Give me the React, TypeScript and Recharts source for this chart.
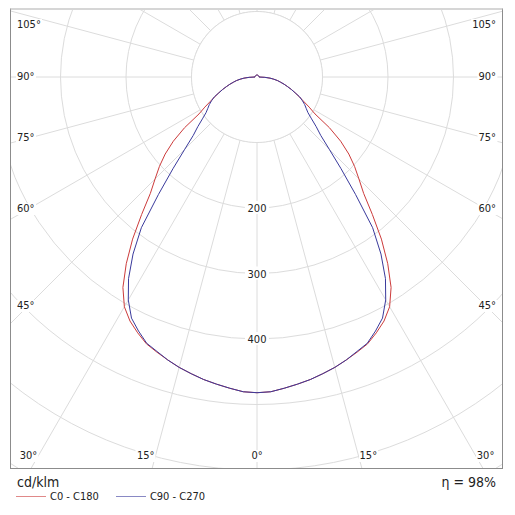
import { RadarChart, Radar, PolarGrid, PolarAngleAxis, PolarRadiusAxis } from "recharts";

// gamma angles of one half plane (0 = straight down, 180 = straight up)
const GAMMA = [
  0, 2.5, 5, 7.5, 10, 12.5, 15, 17.5, 20, 22.5, 25, 27.5, 30, 32.5, 35, 37.5, 40, 42.5, 45,
  47.5, 50, 52.5, 55, 57.5, 60, 62.5, 65, 67.5, 70, 72.5, 75, 77.5, 80, 82.5, 85, 87.5, 90,
  92.5, 95, 97.5, 100, 102.5, 105, 107.5, 110, 112.5, 115, 117.5, 120, 122.5, 125, 127.5, 130,
  132.5, 135, 137.5, 140, 142.5, 145, 147.5, 150, 152.5, 155, 157.5, 160, 162.5, 165, 167.5,
  170, 172.5, 175, 177.5, 180,
];

// cd/klm (both planes are symmetric)
const C0_C180 = [
  482, 481, 477, 473, 469, 464, 459, 453, 447, 441, 431, 420, 405, 381, 348, 312, 274, 241, 220,
  202, 183, 161, 135, 105, 92, 80, 71, 63, 56, 49, 43, 37, 32, 26, 20, 12, 3,
  3, 3, 3, 3, 3, 3, 3, 3, 3, 3, 3, 3, 3, 3, 3, 3, 3, 3, 3, 3, 3, 3, 3, 3, 3, 3, 3, 3, 3, 3, 3,
  3, 3, 3, 3, 3, 3,
];
const C90_C270 = [
  482, 481, 477, 473, 469, 464, 459, 453, 446, 440, 428, 415, 393, 365, 330, 290, 234, 190, 156,
  132, 118, 105, 95, 89, 84, 78, 72, 63, 56, 49, 43, 37, 32, 26, 20, 12, 3,
  3, 3, 3, 3, 3, 3, 3, 3, 3, 3, 3, 3, 3, 3, 3, 3, 3, 3, 3, 3, 3, 3, 3, 3, 3, 3, 3, 3, 3, 3, 3,
  3, 3, 3, 3, 3, 3,
];

const RING_TICKS = [100, 200, 300, 400, 500, 600, 700];
const RING_LABELS = [200, 300, 400];
const INNER_RING = 100;
const GRID_GAMMA = [0, 15, 30, 45, 60, 75, 90, 105, 120, 135, 150, 165, 180, 195, 210, 225, 240, 255, 270, 285, 300, 315, 330, 345];
const SIDE_LABELS = [105, 90, 75, 60, 45];
const BOTTOM_LABELS = [30, 15, 0];

const SERIES = [
  { key: "c0", name: "C0 - C180", color: "#cc3b3b" },
  { key: "c90", name: "C90 - C270", color: "#3a3a9c" },
];

// C0 on the right going up, then C180 on the left coming back down
const data = [
  ...GAMMA.map((g, i) => ({ plane: `C0 ${g}`, c0: C0_C180[i], c90: C90_C270[i], inner: INNER_RING })),
  ...GAMMA.slice(1, -1)
    .map((g, i) => ({ plane: `C180 ${g}`, c0: C0_C180[i + 1], c90: C90_C270[i + 1], inner: INNER_RING }))
    .reverse(),
];

const FONT = "'DejaVu Sans Condensed', 'DejaVu Sans', sans-serif";

// layout (container coords, container sits at the body margin)
const FRAME = { left: 2, top: 0, width: 493, height: 461 };
const CX = 249;
const CY = 69;
const CHART_W = FRAME.width - 2;
const CHART_H = FRAME.height - 3;
// radar points land one band further round, so start one step back
const STEP = 360 / data.length;
const rad = (d: number) => (d * Math.PI) / 180;

const RingTick = (props: any) => {
  const { x, y, payload } = props;
  if (!RING_LABELS.includes(payload.value)) return <g />;
  return (
    <g>
      <rect x={x - 12} y={y - 7} width={24} height={13} fill="#fff" />
      <text x={x} y={y + 4} textAnchor="middle" fontSize={11} fontFamily={FONT} fill="#222">
        {payload.value}
      </text>
    </g>
  );
};

const labelStyle: React.CSSProperties = {
  position: "absolute",
  fontSize: 11,
  lineHeight: "12px",
  color: "#222",
  background: "#fff",
  padding: "0 1px",
  whiteSpace: "nowrap",
};

function AngleLabels() {
  const out: JSX.Element[] = [];
  SIDE_LABELS.forEach((g) => {
    const yl = Math.max(16.5, CY + (CX - 20) / Math.tan(rad(g)));
    const yr = Math.max(16.5, CY + (478 - CX) / Math.tan(rad(g)));
    out.push(
      <span key={`l${g}`} style={{ ...labelStyle, left: 8, top: yl, transform: "translateY(-50%)" }}>{g}°</span>,
      <span key={`r${g}`} style={{ ...labelStyle, left: 489, top: yr, transform: "translate(-100%, -50%)" }}>{g}°</span>
    );
  });
  BOTTOM_LABELS.forEach((g) => {
    const y = 448;
    const dx = (y - CY) * Math.tan(rad(g));
    if (g === 0) {
      out.push(<span key="b0" style={{ ...labelStyle, left: CX, top: y, transform: "translate(-50%, -50%)" }}>0°</span>);
    } else {
      out.push(
        <span key={`bl${g}`} style={{ ...labelStyle, left: CX - dx, top: y, transform: "translate(-100%, -50%)" }}>{g}°</span>,
        <span key={`br${g}`} style={{ ...labelStyle, left: CX + dx, top: y, transform: "translateY(-50%)" }}>{g}°</span>
      );
    }
  });
  return <>{out}</>;
}

export default function App() {
  return (
    <div style={{ position: "relative", width: 499, height: 507, fontFamily: FONT, fontStretch: "condensed", background: "#fff" }}>
      <div
        style={{
          position: "absolute",
          left: FRAME.left,
          top: FRAME.top,
          width: FRAME.width,
          height: FRAME.height,
          boxSizing: "border-box",
          borderTop: "2px solid #d6d6d6",
          borderLeft: "1px solid #8c8c8c",
          borderRight: "1px solid #8c8c8c",
          borderBottom: "1px solid #8c8c8c",
          overflow: "hidden",
        }}
      >
        <RadarChart
          width={CHART_W}
          height={CHART_H}
          data={data}
          cx={CX - FRAME.left - 1}
          cy={CY - FRAME.top - 2}
          outerRadius={655}
          startAngle={-90 - STEP}
          endAngle={270 - STEP}
          margin={{ top: 0, right: 0, bottom: 0, left: 0 }}
        >
          <PolarGrid gridType="circle" stroke="#dcdcdc" polarAngles={GRID_GAMMA.map((g) => g - 90)} />
          <PolarAngleAxis dataKey="plane" tick={false} axisLine={false} tickLine={false} />
          <PolarRadiusAxis
            angle={-90}
            domain={[0, 1000]}
            ticks={RING_TICKS}
            type="number"
            axisLine={false}
            tickLine={false}
            tick={RingTick}
          />
          <Radar dataKey="inner" stroke="#dcdcdc" fill="#fff" fillOpacity={1} isAnimationActive={false} />
          {SERIES.map((s) => (
            <Radar
              key={s.key}
              dataKey={s.key}
              name={s.name}
              stroke={s.color}
              strokeWidth={1}
              fill="none"
              fillOpacity={0}
              dot={false}
              isAnimationActive={false}
            />
          ))}
        </RadarChart>
      </div>
      <AngleLabels />
      <div style={{ position: "absolute", left: 9, top: 466, fontSize: 14, color: "#222" }}>cd/klm</div>
      <div style={{ position: "absolute", right: 11, top: 466, fontSize: 14, color: "#222" }}>η = 98%</div>
      <div style={{ position: "absolute", left: 8, top: 482, display: "flex", alignItems: "center", fontSize: 11, color: "#222" }}>
        {SERIES.map((s) => (
          <div key={s.key} style={{ display: "flex", alignItems: "center", marginRight: 17 }}>
            <span style={{ display: "inline-block", width: 30, height: 0, borderTop: `1px solid ${s.color}`, opacity: 0.6, marginRight: 4 }} />
            <span>{s.name}</span>
          </div>
        ))}
      </div>
    </div>
  );
}
